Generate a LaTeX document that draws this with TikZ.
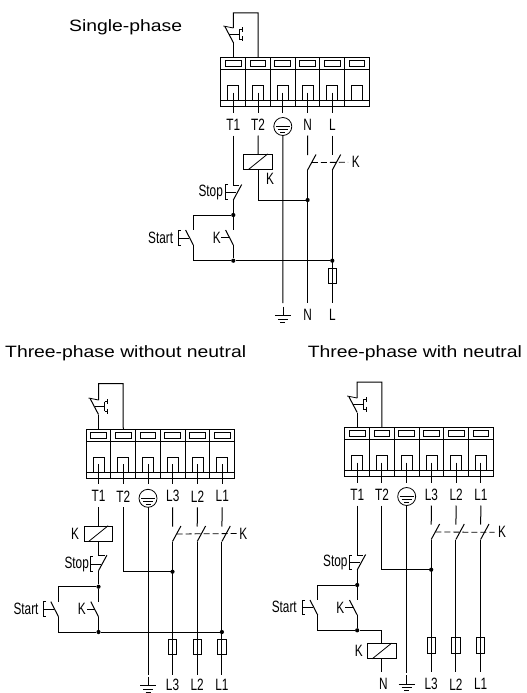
\documentclass[tikz,border=0pt]{standalone}
\usepackage{fontspec}
\usetikzlibrary{calc}
\newfontfamily\titlefont[FakeStretch=1.18]{Liberation Sans}
\newfontfamily\labelfont[FakeStretch=0.72]{Liberation Sans}

\tikzset{
  wire/.style={line width=1pt},
  part/.style={line width=0.8pt},
  linkdash/.style={line width=0.8pt,dash pattern=on 6pt off 3pt},
  dot/.style={circle,fill,inner sep=0pt,minimum size=4.2pt},
  title/.style={font=\titlefont\fontsize{16.4}{16.4}\selectfont,inner sep=0pt,anchor=west},
  tag/.style={font=\labelfont\fontsize{16.4}{16.4}\selectfont,inner sep=0pt}
}

% terminal block, #1 #2 = top left corner
\newcommand{\termblock}[2]{
  \begin{scope}[shift={(#1,#2)}]
    \draw[part] (0,0) rectangle (148.5,49);
    \draw[part] (0,12) -- (148.5,12);
    \draw[part] (0,43) -- (148.5,43);
    \foreach \c in {0,...,5} {
      \draw[part] ({\c*24.75},0) -- ({\c*24.75},49);
      \draw[part] ({\c*24.75+4.5},3.2) rectangle ({\c*24.75+20.2},9.2);
      \draw[part] ({\c*24.75+7},28) rectangle ({\c*24.75+18},43);
      \coordinate (w\c) at ({\c*24.75+12.5},35);
      \coordinate (s\c) at ({\c*24.75+12.5},55);
      \coordinate (r\c) at ({\c*24.75+12.5},78);
      \coordinate (e\c) at ({\c*24.75+12.5},0);
      \coordinate (m\c) at ({\c*24.75+12.5},67);
    }
  \end{scope}
}
% protective earth ring
\newcommand{\earthring}[1]{
  \node[circle,draw,part,minimum size=18pt,inner sep=0pt,yshift=-2pt] (ring) at (m#1) {};
  \draw[part] (ring.center) ++(-7,0) -- ++(14,0);
  \draw[part] (ring.center) ++(-5,3) -- ++(10,0);
  \draw[part] (ring.center) ++(-2.5,6) -- ++(5,0);
}
% ground mark, #1 #2 = bottom of wire
\newcommand{\groundmark}[3]{
  \coordinate (#1) at (#2,#3);
  \draw[part] (#1) -- ++(0,9);
  \draw[part] (#1) ++(-8,9) -- ++(16,0);
  \draw[part] (#1) ++(-5,12.3) -- ++(10,0);
  \draw[part] (#1) ++(-2.5,15.6) -- ++(5,0);
}
% overload contact above the block
\newcommand{\overload}[3]{
  \coordinate (ovb) at (#1,#2);
  \coordinate (ovt) at (#1,#3);
  \draw[wire] (ovb) -- ++(-8.4,-16);
  \draw[part] (ovb) ++(-10,-16.5) -- ++(10,2);
  \draw[part] (ovb) ++(-4,-8) -- ++(10,0) ++(0,-4.7) -- ++(0,9.2);
  \draw[part] (ovb) ++(6,-12.7) -- ++(3,0) ++(0,-2.5) -- ++(0,5);
  \draw[part] (ovb) ++(6,-3.5) -- ++(3,0) ++(0,-2.5) -- ++(0,5);
}
% fuse on a wire
\newcommand{\fuse}[3]{
  \node[draw,part,minimum width=8.4pt,minimum height=15.5pt,inner sep=0pt] (#1) at (#2,#3) {};
}
% make contact, lever to the left, #1 name, #2 #3 = lower end
\newcommand{\opencontact}[3]{
  \coordinate (#1b) at (#2,#3);
  \coordinate (#1t) at (#2,#3-15);
  \coordinate (#1m) at (#2-3.9,#3-7.5);
  \draw[wire] (#1b) -- ++(-7.7,-15);
}
% lever to the right
\newcommand{\linecontact}[3]{
  \coordinate (#1b) at (#2,#3);
  \coordinate (#1t) at (#2,#3-15);
  \coordinate (#1m) at (#2+4.2,#3-7.5);
  \draw[wire] (#1b) -- ++(8.4,-15.5);
}
\newcommand{\pushbar}[2]{
  \draw[part] (#1+2.8,#2-7.3) -- (#1,#2-7.3) -- (#1,#2+7.3) -- (#1+2.8,#2+7.3);
  \draw[part] (#1,#2) -- (#1+10.8,#2);
}
% coil, #1 name, #2 #3 = centre
\newcommand{\coil}[3]{
  \node[draw,part,minimum width=28.5pt,minimum height=14.8pt,inner sep=0pt] (#1) at (#2,#3) {};
  \draw[part] (#1.south west) ++(5,0) -- ($(#1.north east)+(-5,0)$);
}

\begin{document}
\begin{tikzpicture}[x=1pt,y=-1pt]
  \useasboundingbox (0,0) rectangle (527,693);

  %% single phase
  \node[title] (titlea) at (69,27) {Single-phase};
  \begin{scope}[name prefix=a-]
    \termblock{220.8}{57.5}
    \overload{233.3}{42.5}{13}
    \draw[wire] (e1) -- (258.1,13) -- (ovt) -- (233.3,28);
    \draw[wire] (ovb) -- (e0);
    \foreach \c/\lab in {0/T1,1/T2,3/N,4/L} {
      \draw[wire] (w\c) -- (s\c);
      \node[tag] (lab\c) at (m\c) {\lab};
    }
    \draw[wire] (w2) -- (s2);
    \earthring{2}

    \coil{coil}{258.1}{161.7}
    \node[tag] (coiltag) at (270,179) {K};
    \coordinate (jn) at (307.6,200);
    \draw[wire] (r1) -- (coil.north);
    \draw[wire] (coil.south) |- (jn);
    \node[dot] (jna) at (jn) {};

    \linecontact{n}{307.6}{170}
    \linecontact{l}{332.3}{170}
    \draw[wire] (r3) -- (nt);
    \draw[wire] (r4) -- (lt);
    \coordinate (kend) at (348,162.3);
    \draw[linkdash] (nm) -- (kend);
    \node[tag] (ktag) at (355.7,162) {K};

    \linecontact{stop}{233.3}{200}
    \draw[wire] (r0) -- (stopt) -- ++(6,0);
    \pushbar{225.3}{192}
    \node[tag] (stoptag) at (210.7,192) {Stop};
    \node[dot] (jtop) at (233.3,215) {};
    \draw[wire] (stopb) -- (jtop);

    \opencontact{keep}{233.3}{245}
    \opencontact{start}{193.3}{245}
    \pushbar{178.3}{238}
    \draw[part] (keepm) -- ++(-8,0);
    \node[tag] (starttag) at (160.7,238) {Start};
    \node[tag] (keeptag) at (216.7,238) {K};
    \draw[wire] (jtop) -- (keept);
    \draw[wire] (jtop) -| (startt);

    \node[dot] (jlow) at (233.3,260.7) {};
    \node[dot] (jl) at (332.3,260.7) {};
    \draw[wire] (keepb) -- (jlow);
    \draw[wire] (startb) |- (jlow);
    \draw[wire] (jlow) -- (jl);

    \groundmark{gnd}{282.9}{306.7}
    \coordinate (nend) at (307.6,303);
    \coordinate (lend) at (332.3,303);
    \draw[wire] (r2) -- (282.9,303);
    \draw[wire] (nb) -- (nend);
    \draw[wire] (lb) -- (lend);
    \fuse{fusea}{332.3}{275.8}
    \node[tag] (ntag) at (307.6,314.5) {N};
    \node[tag] (ltag) at (332.3,314.5) {L};
  \end{scope}

  %% three phase without neutral
  \node[title] (titleb) at (5,353) {Three-phase without neutral};
  \begin{scope}[name prefix=b-]
    \termblock{86}{429.3}
    \overload{98.5}{414.5}{383.5}
    \draw[wire] (e1) -- (123.2,383.5) -- (ovt) -- (98.5,400);
    \draw[wire] (ovb) -- (e0);
    \foreach \c/\lab in {0/T1,1/T2,3/L3,4/L2,5/L1} {
      \draw[wire] (w\c) -- (s\c);
      \node[tag] (lab\c) at (m\c) {\lab};
    }
    \draw[wire] (w2) -- (s2);
    \earthring{2}

    \coil{coil}{98.5}{533.5}
    \node[tag] (coiltag) at (75,533.7) {K};
    \draw[wire] (r0) -- (coil.north);
    \coordinate (jn) at (172.5,571.7);
    \draw[wire] (r1) |- (jn);
    \node[dot] (jna) at (jn) {};

    \linecontact{p}{172.5}{541.5}
    \linecontact{q}{197.2}{541.5}
    \linecontact{u}{221.9}{541.5}
    \draw[wire] (r3) -- (pt);
    \draw[wire] (r4) -- (qt);
    \draw[wire] (r5) -- (ut);
    \coordinate (kend) at (236.7,533.5);
    \draw[linkdash] (pm) -- (kend);
    \node[tag] (ktag) at (243.3,533.7) {K};

    \linecontact{stop}{98.5}{570.7}
    \draw[wire] (coil.south) -- (stopt) -- ++(6,0);
    \pushbar{90}{564}
    \node[tag] (stoptag) at (76.7,564) {Stop};
    \node[dot] (jtop) at (98.5,586.7) {};
    \draw[wire] (stopb) -- (jtop);

    \opencontact{keep}{98.5}{616.7}
    \opencontact{start}{58.5}{616.7}
    \pushbar{43.3}{609}
    \draw[part] (keepm) -- ++(-8,0);
    \node[tag] (starttag) at (26,608.5) {Start};
    \node[tag] (keeptag) at (81.7,609) {K};
    \draw[wire] (jtop) -- (keept);
    \draw[wire] (jtop) -| (startt);

    \node[dot] (jlow) at (98.5,632) {};
    \node[dot] (jl) at (221.9,632) {};
    \draw[wire] (keepb) -- (jlow);
    \draw[wire] (startb) |- (jlow);
    \draw[wire] (jlow) -- (jl);

    \groundmark{gnd}{148}{676.7}
    \coordinate (pend) at (172.5,675);
    \coordinate (qend) at (197.2,675);
    \coordinate (uend) at (221.9,675);
    \draw[wire] (r2) -- (148,675);
    \draw[wire] (pb) -- (pend);
    \draw[wire] (qb) -- (qend);
    \draw[wire] (ub) -- (uend);
    \fuse{fusep}{172.5}{647}
    \fuse{fuseq}{197.2}{647}
    \fuse{fuseu}{221.9}{647}
    \node[tag] (ptag) at (172.5,684.6) {L3};
    \node[tag] (qtag) at (197.2,684.6) {L2};
    \node[tag] (utag) at (221.9,684.6) {L1};
  \end{scope}

  %% three phase with neutral
  \node[title] (titlec) at (307.7,353) {Three-phase with neutral};
  \begin{scope}[name prefix=c-]
    \termblock{344.7}{427.5}
    \overload{357.2}{412.5}{382}
    \draw[wire] (e1) -- (381.9,382) -- (ovt) -- (357.2,398);
    \draw[wire] (ovb) -- (e0);
    \foreach \c/\lab in {0/T1,1/T2,3/L3,4/L2,5/L1} {
      \draw[wire] (w\c) -- (s\c);
      \node[tag] (lab\c) at (m\c) {\lab};
    }
    \draw[wire] (w2) -- (s2);
    \earthring{2}

    \coordinate (jn) at (431.2,569.7);
    \draw[wire] (r1) |- (jn);
    \node[dot] (jna) at (jn) {};

    \linecontact{p}{431.2}{539.5}
    \linecontact{q}{455.9}{539.5}
    \linecontact{u}{480.6}{539.5}
    \draw[wire] (r3) -- (pt);
    \draw[wire] (r4) -- (qt);
    \draw[wire] (r5) -- (ut);
    \coordinate (kend) at (494.7,532.3);
    \draw[linkdash] (pm) -- (kend);
    \node[tag] (ktag) at (502,532.3) {K};

    \linecontact{stop}{357.2}{570}
    \draw[wire] (r0) -- (stopt) -- ++(6,0);
    \pushbar{349}{562.3}
    \node[tag] (stoptag) at (335.3,562.3) {Stop};
    \node[dot] (jtop) at (357.2,585) {};
    \draw[wire] (stopb) -- (jtop);

    \opencontact{keep}{357.2}{615}
    \opencontact{start}{317.7}{615}
    \pushbar{302.3}{607.5}
    \draw[part] (keepm) -- ++(-8,0);
    \node[tag] (starttag) at (284.3,606.7) {Start};
    \node[tag] (keeptag) at (340.3,607.5) {K};
    \draw[wire] (jtop) -- (keept);
    \draw[wire] (jtop) -| (startt);

    \coil{coil}{381.9}{651}
    \node[tag] (coiltag) at (358.7,651) {K};
    \node[dot] (jlow) at (357.2,630.3) {};
    \draw[wire] (keepb) -- (jlow);
    \draw[wire] (startb) |- (jlow);
    \draw[wire] (jlow) -| (coil.north);
    \coordinate (coilend) at (381.9,671.7);
    \draw[wire] (coil.south) -- (coilend);
    \node[tag] (coilntag) at (383.5,684.3) {N};

    \groundmark{gnd}{406.7}{675}
    \coordinate (pend) at (431.2,672);
    \coordinate (qend) at (455.9,672);
    \coordinate (uend) at (480.6,672);
    \draw[wire] (r2) -- (406.7,673);
    \draw[wire] (pb) -- (pend);
    \draw[wire] (qb) -- (qend);
    \draw[wire] (ub) -- (uend);
    \fuse{fusep}{431.2}{645.3}
    \fuse{fuseq}{455.9}{645.3}
    \fuse{fuseu}{480.6}{645.3}
    \node[tag] (ptag) at (431.2,684.3) {L3};
    \node[tag] (qtag) at (455.9,684.3) {L2};
    \node[tag] (utag) at (480.6,684.3) {L1};
  \end{scope}

\end{tikzpicture}
\end{document}
